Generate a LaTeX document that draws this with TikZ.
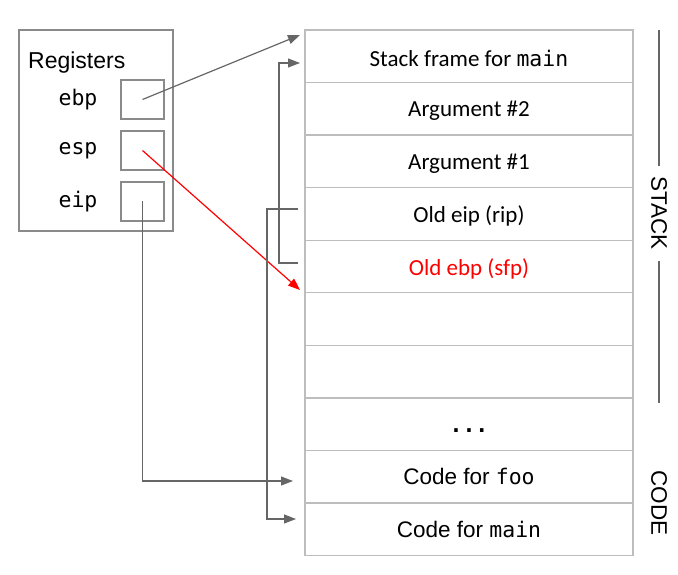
\documentclass[tikz,border=0pt]{standalone}
\usepackage{fontspec}
\setmainfont{Carlito}
\setmonofont{DejaVu Sans Mono}
\newfontfamily\arialfont{Liberation Sans}
\usetikzlibrary{arrows.meta}
\definecolor{cellgray}{HTML}{BDBDBD}
\definecolor{boxgray}{HTML}{8A8A8A}
\definecolor{linkgray}{HTML}{666666}
\definecolor{hotred}{HTML}{FF0000}
\newcommand{\codefont}{\fontsize{21.5}{24}\ttfamily}
\begin{document}
\begin{tikzpicture}[x=1pt,y=-1pt,
  cell/.style={draw=cellgray, line width=1.3pt, minimum width=328pt,
    minimum height=52.56pt, inner sep=0pt, anchor=center},
  celltext/.style={inner sep=0pt, font=\fontsize{23}{26}\selectfont},
  codetext/.style={inner sep=0pt, font=\arialfont\fontsize{22.5}{26}\selectfont},
  regbox/.style={draw=boxgray, line width=1.3pt, minimum width=43pt,
    minimum height=39pt, inner sep=0pt},
  reglabel/.style={font=\codefont, inner sep=0pt},
  side/.style={font=\arialfont\fontsize{22.5}{26}\selectfont, rotate=-90, inner sep=0pt},
  ptr/.style={draw=linkgray, line width=1.2pt, -{Triangle[length=12pt,width=9pt]}},
  hotptr/.style={draw=hotred, line width=1.2pt, -{Triangle[length=12pt,width=9pt]}},
  bracketline/.style={draw=linkgray, line width=1.2pt}]
\useasboundingbox (0,0) rectangle (678,575);

% stack and code cells
\node[cell] (c1)  at (469,56.3)  {};
\node[cell] (c2)  at (469,108.8) {};
\node[cell] (c3)  at (469,161.4) {};
\node[cell] (c4)  at (469,213.9) {};
\node[cell] (c5)  at (469,266.5) {};
\node[cell] (c6)  at (469,319.0) {};
\node[cell] (c7)  at (469,371.6) {};
\node[cell] (c8)  at (469,424.2) {};
\node[cell] (c9)  at (469,476.7) {};
\node[cell] (c10) at (469,529.3) {};

% cell contents
\node[celltext] (x1) at (469,58.5)  {Stack frame for \texttt{\codefont main}};
\node[celltext] (x2) at (469,111)   {Argument \#2};
\node[celltext] (x3) at (469,163.5) {Argument \#1};
\node[celltext] (x4) at (469,216)   {Old eip (rip)};
\node[celltext, text=hotred] (x5) at (469,268.5) {Old ebp (sfp)};
\node[inner sep=0pt, font=\codefont\bfseries] (x8) at (469,431) {...};
\node[codetext] (x9)  at (469,476.5) {Code for \texttt{\codefont foo}};
\node[codetext] (x10) at (469,529)   {Code for \texttt{\codefont main}};

% register file
\node[draw=boxgray, line width=1.3pt, minimum width=154pt, minimum height=201pt,
  inner sep=0pt] (regs) at (96,130.5) {};
\node[anchor=west, inner sep=0pt, font=\arialfont\fontsize{23}{26}\selectfont]
  (regtitle) at (28,62.5) {Registers};
\node[regbox] (rb) at (142.5,99.5) {};
\node[regbox] (rs) at (142.5,150.5) {};
\node[regbox] (ri) at (142.5,201.5) {};
\node[reglabel] (lb) at (78,100) {ebp};
\node[reglabel] (ls) at (78,151) {esp};
\node[reglabel] (li) at (78,202) {eip};

% arrow end points beside the cells
\coordinate (tb) at (300,35);
\coordinate (ts) at (300,290);
\coordinate (tf) at (293,481);
\coordinate (tm) at (296,519);
\coordinate (ttop) at (300,63);
\coordinate (oe) at (298,209);
\coordinate (ob) at (298,263);

% register pointers
\draw[ptr] (rb.center) -- (tb);
\draw[hotptr] (rs.center) -- (ts);
\draw[ptr] (ri.center) |- (tf);

% saved values
\draw[ptr] (oe) -- (267,209) |- (tm);
\draw[ptr] (ob) -- (279,263) |- (ttop);

% side labels
\draw[bracketline] (659,30) -- (659,166);
\node[side] (stk) at (659,213) {STACK};
\draw[bracketline] (659,261) -- (659,403);
\node[side] (cod) at (659,503) {CODE};
\end{tikzpicture}
\end{document}
